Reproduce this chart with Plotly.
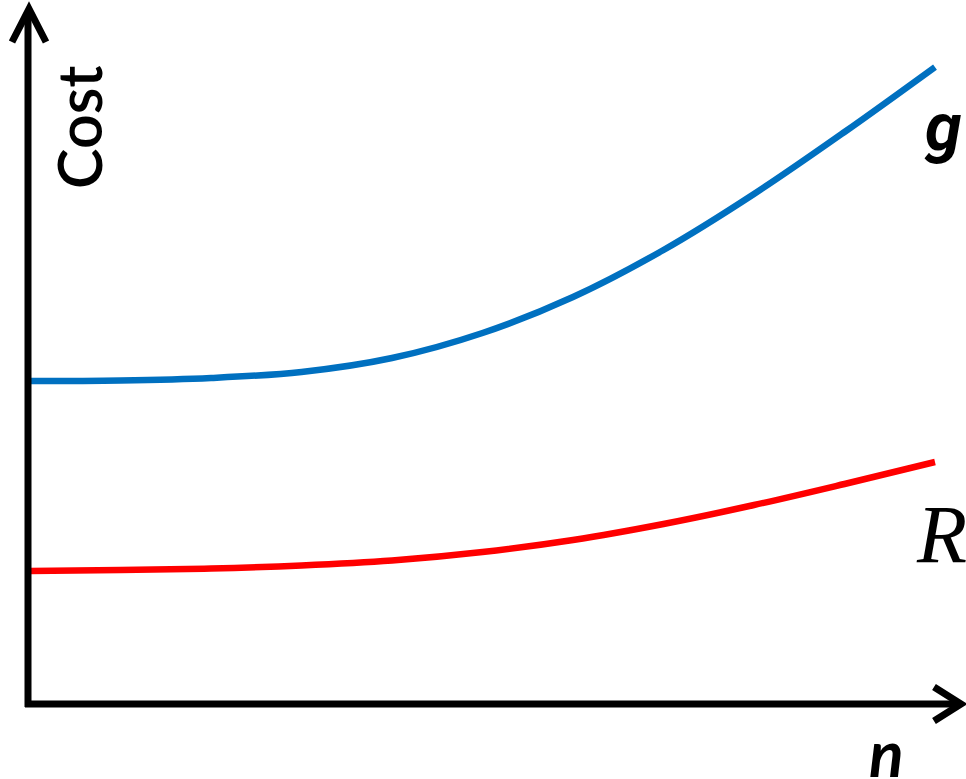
import plotly.graph_objects as go

# Data (n in arbitrary units, cost in arbitrary units)
n_vals = [0, 1, 2, 3, 4, 5, 6, 7, 8, 9, 10]
g_cost = [5.047, 5.055, 5.094, 5.188, 5.406, 5.797, 6.359, 7.094, 7.969, 8.938, 9.953]
r_cost = [2.078, 2.094, 2.117, 2.164, 2.242, 2.375, 2.563, 2.813, 3.109, 3.438, 3.781]

W, H = 966, 779
PX0, PXU = 30, 90.5   # pixel of n=0, pixels per unit
PY0, PYU = 704, 64    # pixel of cost=0, pixels per unit

def dx(px):
    return (px - PX0) / PXU

def dy(py):
    return (PY0 - py) / PYU

fig = go.Figure()
fig.add_trace(go.Scatter(x=n_vals, y=g_cost, mode="lines",
                         line=dict(color="#0070C0", width=6.5, shape="spline", smoothing=1.0)))
fig.add_trace(go.Scatter(x=n_vals, y=r_cost, mode="lines",
                         line=dict(color="#FF0000", width=6.5, shape="spline", smoothing=1.0)))

black = dict(color="black", width=7)
# axis lines
fig.add_shape(type="line", x0=dx(28), x1=dx(28), y0=dy(707), y1=dy(12), line=black)
fig.add_shape(type="line", x0=dx(25), x1=dx(958), y0=dy(704), y1=dy(704), line=black)
# arrowheads
fig.add_shape(type="path",
              path=f"M {dx(12)},{dy(42)} L {dx(29)},{dy(9)} L {dx(46)},{dy(42)}",
              line=black)
fig.add_shape(type="path",
              path=f"M {dx(934)},{dy(687)} L {dx(961)},{dy(704)} L {dx(934)},{dy(721)}",
              line=black)

fig.add_annotation(x=dx(78), y=dy(127), text="Cost", showarrow=False, textangle=-90,
                   font=dict(family="Lato", size=61, color="black", weight=600))
fig.add_annotation(x=dx(943), y=dy(127), text="<i><b>g</b></i>", showarrow=False,
                   font=dict(family="Roboto", size=66, color="black"))
fig.add_annotation(x=dx(941), y=dy(534), text="<i>R</i>", showarrow=False,
                   font=dict(family="Liberation Serif", size=82, color="black"))
fig.add_annotation(x=dx(886), y=dy(752), text="<i><b>n</b></i>", showarrow=False,
                   font=dict(family="Lato", size=64, color="black"))

fig.update_layout(width=W, height=H, margin=dict(l=0, r=0, t=0, b=0),
                  paper_bgcolor="white", plot_bgcolor="white", showlegend=False,
                  xaxis=dict(range=[dx(0), dx(W)], visible=False, fixedrange=True),
                  yaxis=dict(range=[dy(H), dy(0)], visible=False, fixedrange=True))

fig.write_html("out.html", config={"displayModeBar": False},
               post_script="document.body.style.margin='0';document.body.style.overflow='hidden';")
